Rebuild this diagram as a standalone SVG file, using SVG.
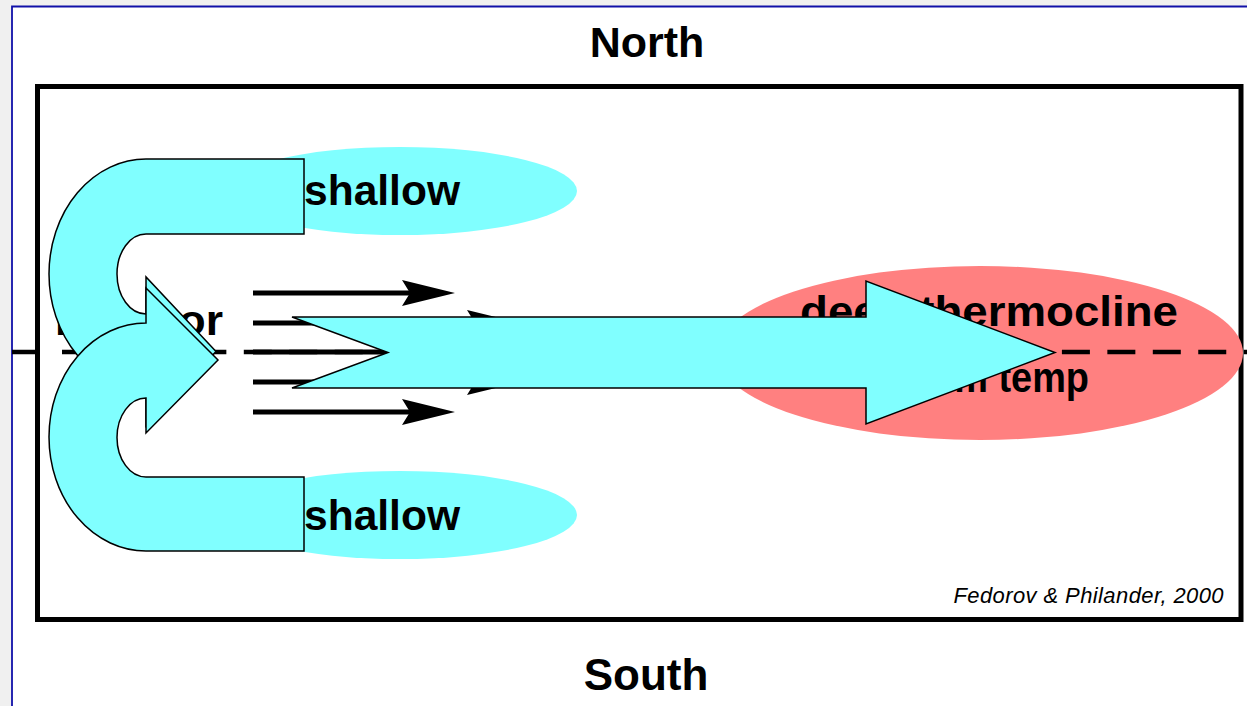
<svg xmlns="http://www.w3.org/2000/svg" width="1247" height="706" viewBox="0 0 1247 706">
  <style>
    .lbl { font-family: "Liberation Sans", Arial, Helvetica, sans-serif; font-weight: bold; fill: #000; }
    .cite { font-family: "Liberation Sans", Arial, Helvetica, sans-serif; font-style: italic; font-size: 22px; fill: #000; }
    .flow { fill: #80ffff; stroke: #000; stroke-width: 1.5; stroke-linejoin: miter; }
    .shaft { stroke: #000; stroke-width: 5; fill: none; }
  </style>
  <defs>
    <marker id="head" markerUnits="userSpaceOnUse" viewBox="0 -14 54 28" markerWidth="54" markerHeight="28" refX="8" refY="0" orient="auto" overflow="visible">
      <path d="M0 -13 L53 0 L0 13 L8 0 Z" fill="#000"/>
    </marker>
  </defs>

  <!-- page background -->
  <rect x="0" y="0" width="1247" height="706" fill="#ffffff"/>
  <rect x="0" y="0" width="1247" height="6" fill="#f0f0f0"/>
  <rect x="0" y="0" width="11.5" height="706" fill="#f0f0f0"/>
  <path d="M12 706 V6.5 H1247" fill="none" stroke="#1010a8" stroke-width="1.8"/>

  <!-- titles -->
  <g id="north"><text class="lbl" x="647" y="57" font-size="43" text-anchor="middle">North</text></g>
  <g id="south"><text class="lbl" x="646" y="690" font-size="44" text-anchor="middle">South</text></g>

  <!-- frame -->
  <g id="frame"><rect x="37.5" y="86.5" width="1203.5" height="533" fill="none" stroke="#000" stroke-width="5"/></g>

  <!-- regions -->
  <g id="shallow-north">
    <ellipse cx="400" cy="191" rx="177" ry="44" fill="#80ffff"/>
    <text class="lbl" x="304" y="205" font-size="42" textLength="156" lengthAdjust="spacingAndGlyphs">shallow</text>
  </g>
  <g id="shallow-south">
    <ellipse cx="400" cy="515" rx="177" ry="44" fill="#80ffff"/>
    <text class="lbl" x="304" y="530" font-size="42" textLength="156" lengthAdjust="spacingAndGlyphs">shallow</text>
  </g>
  <g id="deep-thermocline">
    <ellipse cx="980" cy="353" rx="263" ry="87" fill="#ff8080"/>
    <text class="lbl" x="989" y="326" font-size="42" text-anchor="middle" textLength="378" lengthAdjust="spacingAndGlyphs">deep thermocline</text>
    <text class="lbl" x="989" y="392" font-size="42" text-anchor="middle" textLength="200" lengthAdjust="spacingAndGlyphs">warm temp</text>
  </g>
  <g id="equator">
    <text class="lbl" x="55" y="335" font-size="42" textLength="168" lengthAdjust="spacingAndGlyphs">Equator</text>
    <path d="M12 352 H40" stroke="#000" stroke-width="4.5"/>
    <path d="M62 352 H1247" stroke="#000" stroke-width="4.5" stroke-dasharray="28 17.45"/>
  </g>

  <g id="citation"><text class="cite" x="1224" y="603" text-anchor="end" letter-spacing="0.4">Fedorov &amp; Philander, 2000</text></g>

  <!-- connectors -->
  <g id="connectors">
    <path class="shaft" d="M253 293 H410" marker-end="url(#head)"/>
    <path class="shaft" d="M253 323 H475" marker-end="url(#head)"/>
    <path class="shaft" d="M253 352 H475" marker-end="url(#head)"/>
    <path class="shaft" d="M253 382 H475" marker-end="url(#head)"/>
    <path class="shaft" d="M253 412 H410" marker-end="url(#head)"/>

    <path id="upper-flow" class="flow" d="M304 159 H146 A97 115 0 0 0 146 389 V426 L216 351.5 L146 277 V314 A29 40 0 0 1 146 234 H304 Z"/>
    <path id="lower-flow" class="flow" d="M304 551 H146 A97 114 0 0 1 146 323 V288 L218 360 L146 433 V398 A29 39.5 0 0 0 146 477 H304 Z"/>
    <path id="main-flow" class="flow" d="M292 317 H866 V281 L1055 352.5 L866 424 V388 H292 L388 352.5 Z"/>
  </g>
</svg>
